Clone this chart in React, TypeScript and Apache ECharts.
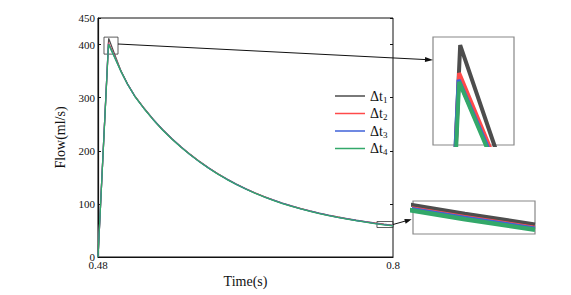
import React, { useEffect, useRef } from 'react';
import * as echarts from 'echarts';

const seriesNames = ['Δt1', 'Δt2', 'Δt3', 'Δt4'];
const seriesColors = ['#4d4d4d', '#ff4a4a', '#3f62d8', '#33a86a'];

// rise + peak (per series)
const headTimes1 = [0.48, 0.4916, 0.498];
const headValues1 = [0, 411.6, 382];
const headTimes2 = [0.48, 0.4914, 0.497];
const headValues2 = [0, 403.3, 382];
const headTimes3 = [0.48, 0.4913, 0.4966];
const headValues3 = [0, 401.3, 382];
const headTimes4 = [0.48, 0.4914, 0.4964];
const headValues4 = [0, 400.7, 382];

// decay part (shared time grid)
const decayTimes = [0.505, 0.512, 0.52, 0.53, 0.54, 0.55, 0.56, 0.57, 0.58, 0.59, 0.6, 0.61, 0.62, 0.63, 0.64, 0.65, 0.66, 0.67, 0.68, 0.69, 0.7, 0.71, 0.72, 0.73, 0.74, 0.75, 0.76, 0.77, 0.78, 0.79, 0.8];
const decayValues1 = [350, 326, 303, 280, 259, 240, 223, 207.5, 193.2, 180, 167.9, 156.8, 146.6, 137.3, 128.8, 121, 113.9, 107.4, 101.5, 96.1, 91.2, 86.7, 82.6, 78.8, 75.3, 72.1, 69.2, 66.5, 64, 61.7, 59.6];
const decayValues2 = [349.6, 325.7, 302.7, 279.7, 258.7, 239.7, 222.7, 207.2, 192.9, 179.7, 167.6, 156.5, 146.3, 137.0, 128.5, 120.7, 113.6, 107.1, 101.2, 95.8, 90.9, 86.4, 82.3, 78.5, 75.0, 71.8, 68.85, 66.1, 63.55, 61.25, 59.15];
const decayValues3 = [349.3, 325.5, 302.5, 279.5, 258.5, 239.5, 222.5, 207.0, 192.7, 179.5, 167.4, 156.3, 146.1, 136.8, 128.3, 120.5, 113.4, 106.9, 101.0, 95.6, 90.7, 86.2, 82.1, 78.3, 74.8, 71.6, 68.7, 65.95, 63.4, 61.1, 59.0];
const decayValues4 = [349.0, 325.2, 302.2, 279.2, 258.2, 239.2, 222.2, 206.7, 192.4, 179.2, 167.1, 156.0, 145.8, 136.5, 128.0, 120.2, 113.1, 106.6, 100.7, 95.3, 90.4, 85.9, 81.8, 78.0, 74.5, 71.3, 68.3, 65.55, 62.9, 60.6, 58.55];

const xTickLabels = [0.48, 0.8];

// zoom windows (data units)
const zoom1X = [0.4865, 0.5017];
const zoom1Y = [382, 414];
const zoom2X = [0.7826, 0.8];
const zoom2Y = [57.7, 64.2];
const zoom2BoxY = [55.5, 66.8];

const FONT = 'Liberation Serif';

function build(ht: number[], hv: number[], dv: number[]) {
  const pts: number[][] = ht.map((t, i) => [t, hv[i]]);
  decayTimes.forEach((t, i) => pts.push([t, dv[i]]));
  return pts;
}

export default function App() {
  const ref = useRef<HTMLDivElement>(null);
  useEffect(() => {
    if (!ref.current) return;
    const chart = echarts.init(ref.current, undefined, { renderer: 'svg' });
    const datas = [
      build(headTimes1, headValues1, decayValues1),
      build(headTimes2, headValues2, decayValues2),
      build(headTimes3, headValues3, decayValues3),
      build(headTimes4, headValues4, decayValues4),
    ];
    const mainSeries = datas.map((d, i) => ({
      type: 'line',
      name: seriesNames[i],
      data: d,
      xAxisIndex: 0,
      yAxisIndex: 0,
      showSymbol: false,
      symbol: 'none',
      color: seriesColors[i],
      lineStyle: { width: 1.3, color: seriesColors[i] },
      z: 3 + i,
      markArea: i === 0 ? {
        silent: true,
        itemStyle: { color: 'rgba(0,0,0,0)', borderColor: '#333', borderWidth: 0.8 },
        data: [
          [{ coord: [zoom1X[0], zoom1Y[1]] }, { coord: [zoom1X[1], zoom1Y[0]] }],
          [{ coord: [zoom2X[0], zoom2BoxY[1]] }, { coord: [zoom2X[1], zoom2BoxY[0]] }],
        ],
      } : undefined,
    }));
    const inset1 = datas.map((d, i) => ({
      type: 'line', name: seriesNames[i], data: d, xAxisIndex: 2, yAxisIndex: 2,
      showSymbol: false, symbol: 'none', color: seriesColors[i],
      lineStyle: { width: 4, color: seriesColors[i] }, z: 3 + i,
    }));
    const inset2 = datas.map((d, i) => ({
      type: 'line', name: seriesNames[i], data: d, xAxisIndex: 3, yAxisIndex: 3,
      showSymbol: false, symbol: 'none', color: seriesColors[i],
      lineStyle: { width: i === 3 ? 4.5 : i === 0 ? 4 : 2, color: seriesColors[i] }, z: 3 + i,
    }));

    const hidden = { show: false };
    chart.setOption({
      animation: false,
      backgroundColor: '#fff',
      textStyle: { fontFamily: FONT },
      grid: [
        { left: 98, top: 18, width: 295, height: 239, show: true, borderColor: '#111', borderWidth: 1 },
        { left: 98, top: 18, width: 295, height: 239 },
        { left: 433, top: 37, width: 81, height: 108, show: true, borderColor: '#888', borderWidth: 1.2 },
        { left: 413, top: 201, width: 122, height: 33, show: true, borderColor: '#888', borderWidth: 1.2 },
      ],
      xAxis: [
        {
          type: 'value', gridIndex: 0, min: 0.48, max: 0.8,
          name: 'Time(s)', nameLocation: 'middle', nameGap: 9,
          nameTextStyle: { fontFamily: FONT, fontSize: 14, color: '#111' },
          axisLine: { show: true, lineStyle: { color: '#111', width: 1.2 } },
          axisTick: { show: false },
          splitLine: { show: false },
          axisLabel: { customValues: xTickLabels, fontFamily: FONT, fontSize: 11, color: '#111', margin: 2, formatter: (v: number) => String(v) },
        },
        { type: 'value', gridIndex: 1, min: 0.48, max: 0.8, show: false },
        { type: 'value', gridIndex: 2, min: zoom1X[0], max: zoom1X[1], show: false, splitLine: hidden },
        { type: 'value', gridIndex: 3, min: zoom2X[0], max: zoom2X[1], show: false, splitLine: hidden },
      ],
      yAxis: [
        {
          type: 'value', gridIndex: 0, min: 0, max: 450, interval: 100,
          name: 'Flow(ml/s)', nameLocation: 'middle', nameGap: 27,
          nameTextStyle: { fontFamily: FONT, fontSize: 14, color: '#111' },
          axisLine: { show: true, lineStyle: { color: '#111', width: 1.2 } },
          axisTick: { show: true, inside: true, length: 3, lineStyle: { color: '#111' } },
          splitLine: { show: false },
          axisLabel: { fontFamily: FONT, fontSize: 11, color: '#111', margin: 3 },
        },
        {
          type: 'value', gridIndex: 1, min: 0, max: 450, interval: 100, position: 'right',
          axisLine: { show: false },
          axisTick: { show: true, inside: true, length: 3, lineStyle: { color: '#111' } },
          axisLabel: { show: false },
          splitLine: { show: false },
        },
        { type: 'value', gridIndex: 2, min: zoom1Y[0], max: zoom1Y[1], show: false, splitLine: hidden },
        { type: 'value', gridIndex: 3, min: zoom2Y[0], max: zoom2Y[1], show: false, splitLine: hidden },
      ],
      legend: {
        data: seriesNames,
        orient: 'vertical',
        left: 330,
        top: 83,
        itemWidth: 30,
        itemHeight: 1.5,
        itemGap: 1.5,
        icon: 'rect',
        formatter: (n: string) => `{m|Δt}{s|${n.slice(2)}}`,
        textStyle: {
          fontFamily: FONT,
          color: '#111',
          rich: {
            m: { fontFamily: FONT, fontSize: 14, color: '#111', lineHeight: 16 },
            s: { fontFamily: FONT, fontSize: 9, color: '#111', lineHeight: 16, verticalAlign: 'bottom', padding: [7, 0, 0, 0] },
          },
        },
      },
      graphic: [
        { type: 'line', shape: { x1: 118, y1: 44, x2: 426, y2: 59.6 }, style: { stroke: '#111', lineWidth: 1 }, z: 100 },
        { type: 'polygon', shape: { points: [[433, 60], [425.1, 57.1], [424.9, 62.1]] }, style: { fill: '#111' }, z: 100 },
        { type: 'line', shape: { x1: 393, y1: 224.5, x2: 405.5, y2: 221 }, style: { stroke: '#111', lineWidth: 1 }, z: 100 },
        { type: 'polygon', shape: { points: [[411.7, 219.3], [405.7, 223.7], [404.3, 218.9]] }, style: { fill: '#111' }, z: 100 },
      ],
      series: [...mainSeries, ...inset1, ...inset2],
    });
    return () => chart.dispose();
  }, []);
  return <div ref={ref} style={{ position: 'fixed', left: 0, top: 0, width: 571, height: 295 }} />;
}
